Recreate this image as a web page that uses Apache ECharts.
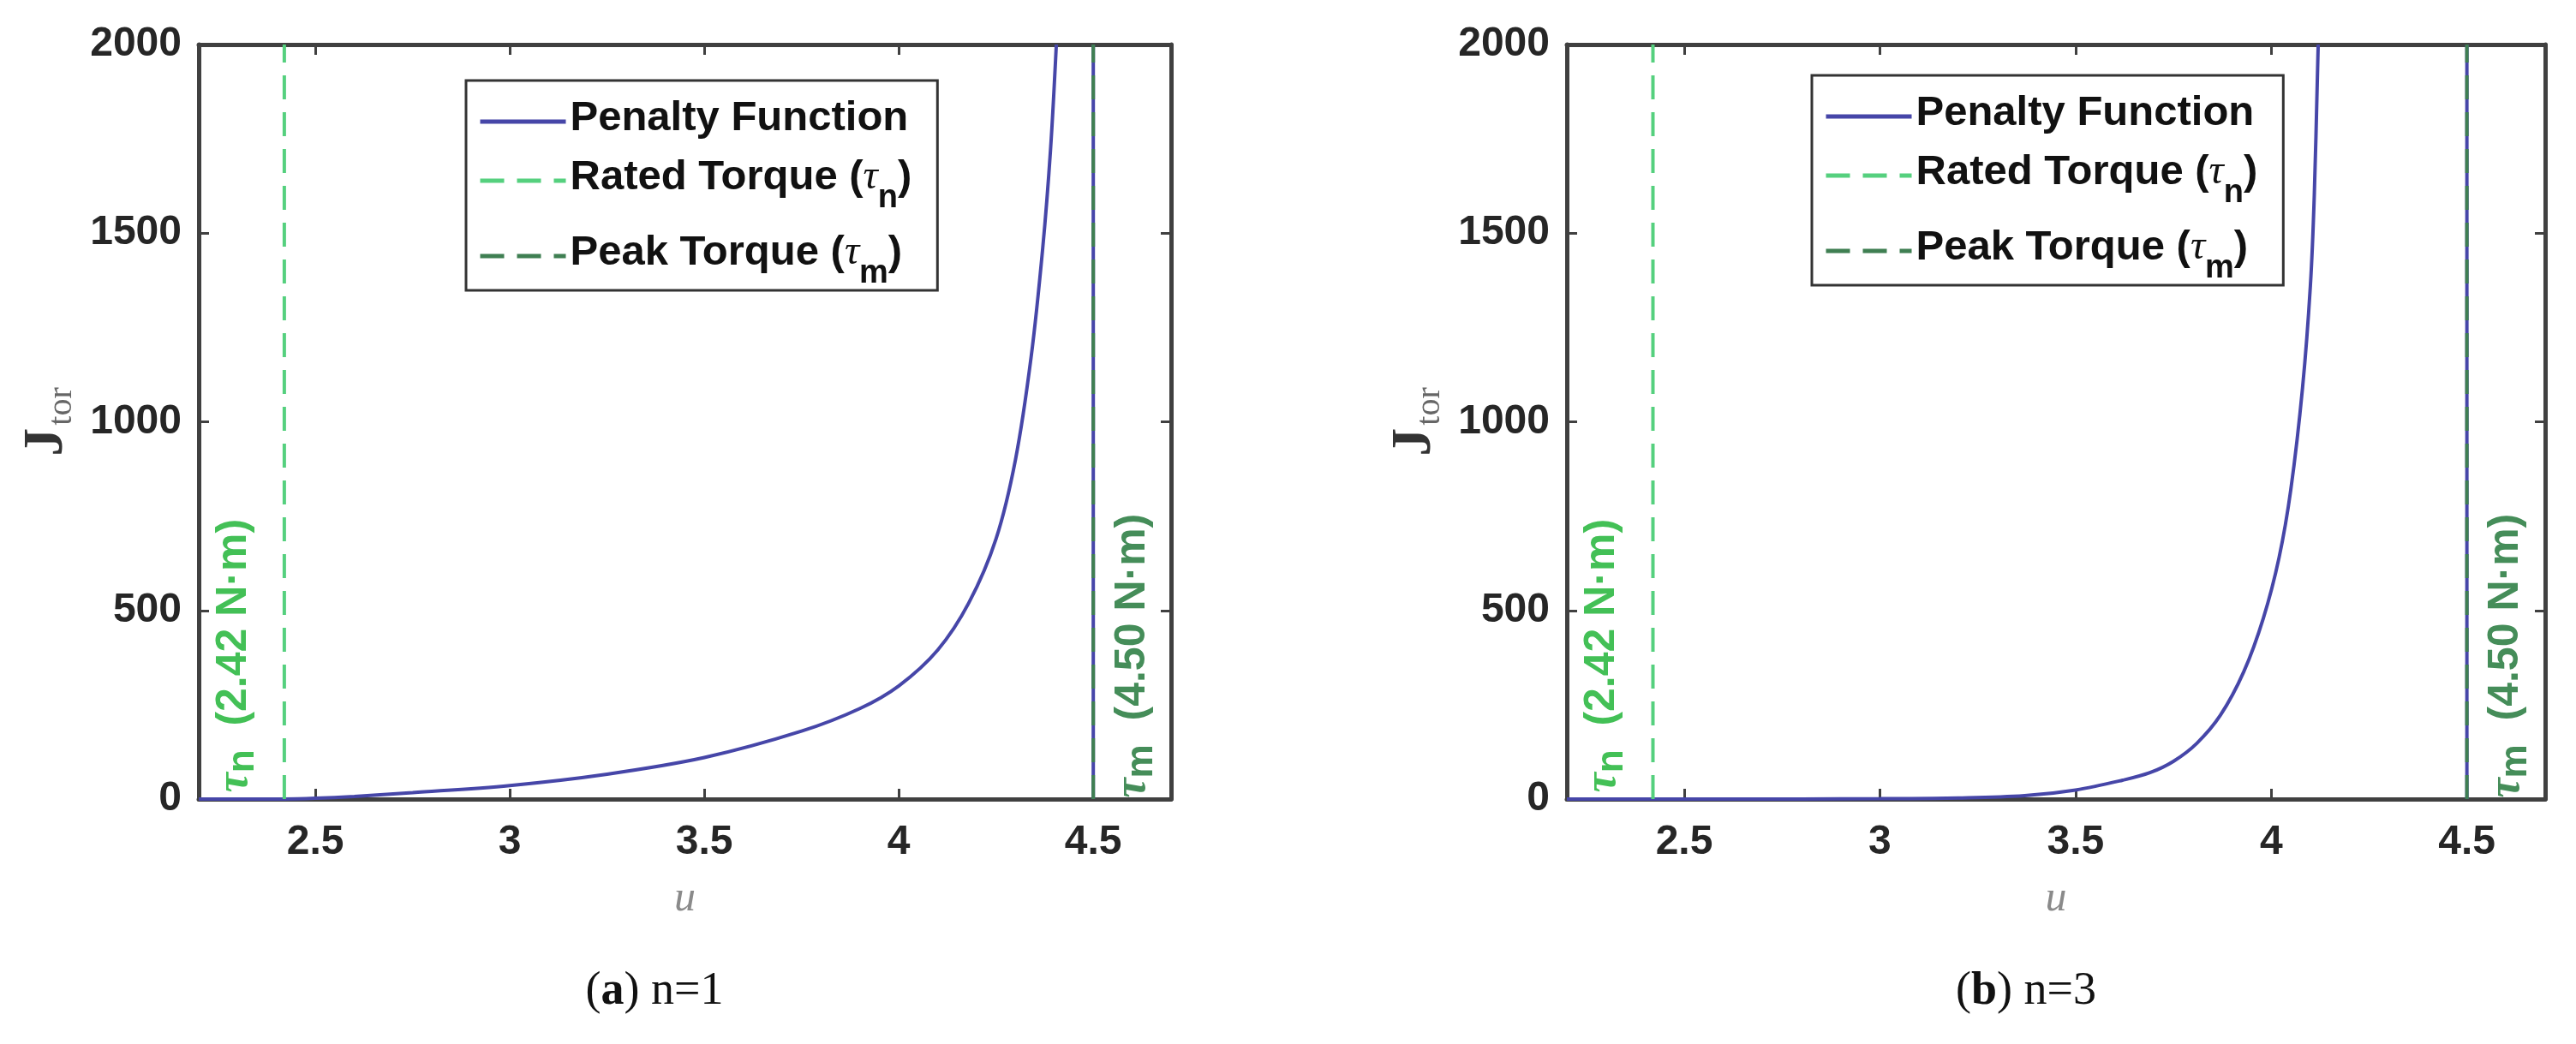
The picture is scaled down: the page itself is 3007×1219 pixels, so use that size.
<!DOCTYPE html>
<html>
<head>
<meta charset="utf-8">
<script src="https://cdn.jsdelivr.net/npm/echarts@6/dist/echarts.min.js"></script>
<style>
  html, body { margin: 0; padding: 0; background: #fff; }
  #chart { width: 3007px; height: 1219px; }
</style>
</head>
<body>
<div id="chart"></div>
<script>
// axis ranges and ticks
const uRange = [2.2, 4.7];
const jRange = [0, 2000];
const uTicks = [2.5, 3, 3.5, 4, 4.5];

// torque limits (N·m)
const ratedTorque = 2.42;
const peakTorque = 4.5;

// (a) n=1
const u1 = [2.2, 2.42, 2.5, 2.6, 2.75, 3.0, 3.25, 3.5, 3.75, 3.9, 4.0, 4.1, 4.18, 4.25, 4.3, 4.34, 4.37, 4.39, 4.405];
const j1 = [0, 0, 2, 7, 17, 36, 66, 110, 180, 240, 300, 395, 520, 690, 900, 1170, 1460, 1720, 2000];

// (b) n=3
const u3 = [2.2, 2.8, 3.0, 3.2, 3.37, 3.5, 3.62, 3.69, 3.75, 3.81, 3.87, 3.93, 3.98, 4.02, 4.05, 4.08, 4.1, 4.11, 4.12];
const j3 = [0, 0, 1, 3, 9, 24, 50, 70, 100, 148, 222, 338, 480, 640, 820, 1090, 1360, 1600, 2000];

// the penalty jumps back down at the peak torque
const dropU = [peakTorque, peakTorque];
const dropJ = [2000, 0];

// where the rotated limit labels sit (data coords)
const labelU = [2.295, 4.605];
const labelJ = 380;

const captions = ['a', 'b'];
const nValues = [1, 3];

const sans = 'Liberation Sans, Arial, sans-serif';
const serif = 'Liberation Serif, Times New Roman, serif';
const axisColor = '#404040';
const blue = '#4646a8';
const lightGreen = '#55d07e';
const darkGreen = '#3f7f52';

const grids = [
	{ left: 232, top: 52, width: 1135, height: 881 },
	{ left: 1829, top: 52, width: 1142, height: 881 },
];
const legendPos = [
	{ left: 544, top: 94 },
	{ left: 2115, top: 88 },
];
const captionX = [764, 2365];

function zip(xs, ys) {
	return xs.map((x, i) => [x, ys[i]]);
}

function xAxes(gi) {
	const base = {
		type: 'value', gridIndex: gi, min: uRange[0], max: uRange[1],
		splitLine: { show: false },
		axisLine: { show: true, onZero: false, lineStyle: { color: axisColor, width: 5 } },
		axisTick: { show: true, inside: true, length: 12, customValues: uTicks, lineStyle: { color: axisColor, width: 3 } },
	};
	return [
		Object.assign({}, base, {
			position: 'bottom',
			axisLabel: { customValues: uTicks, margin: 27, fontSize: 48, fontWeight: 'bold', color: '#262626', fontFamily: sans },
			name: 'u', nameLocation: 'middle', nameGap: 92,
			nameTextStyle: { fontFamily: serif, fontStyle: 'italic', fontSize: 50, color: '#8a8a8a' },
		}),
		Object.assign({}, base, { position: 'top', axisLabel: { show: false } }),
	];
}

function yAxes(gi) {
	const base = {
		type: 'value', gridIndex: gi, min: jRange[0], max: jRange[1], interval: 500,
		splitLine: { show: false },
		axisLine: { show: true, onZero: false, lineStyle: { color: axisColor, width: 5 } },
		axisTick: { show: true, inside: true, length: 12, lineStyle: { color: axisColor, width: 3 } },
	};
	return [
		Object.assign({}, base, {
			position: 'left',
			axisLabel: { margin: 20, fontSize: 48, fontWeight: 'bold', color: '#262626', fontFamily: sans, formatter: (v) => String(v) },
			name: '{j|J}{s|tor}', nameLocation: 'middle', nameGap: 140, nameRotate: 90,
			nameTextStyle: {
				rich: {
					j: { fontFamily: serif, fontWeight: 'bold', fontSize: 66, color: '#333', lineHeight: 70, verticalAlign: 'top' },
					s: { fontFamily: serif, fontSize: 40, color: '#666', lineHeight: 46, padding: [30, 0, 0, 3], verticalAlign: 'top' },
				},
			},
		}),
		Object.assign({}, base, { position: 'right', axisLabel: { show: false } }),
	];
}

const legendNames = ['Penalty Function', 'Rated Torque', 'Peak Torque'];
const legendText = {
	'Penalty Function': '{b|Penalty Function}',
	'Rated Torque': '{b|Rated Torque (}{t|τ}{s|n}{b|)}',
	'Peak Torque': '{b|Peak Torque (}{t|τ}{s|m}{b|)}',
};
const legendRich = {
	b: { fontFamily: sans, fontWeight: 'bold', fontSize: 49, color: '#111', lineHeight: 56, verticalAlign: 'top' },
	t: { fontFamily: serif, fontStyle: 'italic', fontSize: 48, color: '#111', lineHeight: 56, verticalAlign: 'top' },
	s: { fontFamily: sans, fontWeight: 'bold', fontSize: 38, color: '#111', lineHeight: 50, padding: [30, 0, 0, 0], verticalAlign: 'top' },
};

const limitRich = (color) => ({
	t: { fontFamily: serif, fontStyle: 'italic', fontWeight: 'bold', fontSize: 52, color: color, lineHeight: 54, verticalAlign: 'top' },
	s: { fontFamily: sans, fontWeight: 'bold', fontSize: 44, color: color, lineHeight: 54, padding: [14, 0, 0, 0], verticalAlign: 'top' },
	v: { fontFamily: sans, fontWeight: 'bold', fontSize: 50, color: color, lineHeight: 54, verticalAlign: 'top' },
});

const series = [];
[zip(u1, j1), zip(u3, j3)].forEach((curve, gi) => {
	const xi = gi * 2, yi = gi * 2;
	series.push({
		name: 'Penalty Function', type: 'line', xAxisIndex: xi, yAxisIndex: yi,
		data: curve, showSymbol: false, symbol: 'none', smooth: 0.35,
		lineStyle: { color: blue, width: 4 }, itemStyle: { color: blue }, z: 3,
	});
	series.push({
		name: 'Penalty Function', type: 'line', xAxisIndex: xi, yAxisIndex: yi,
		data: zip(dropU, dropJ), symbol: 'none',
		lineStyle: { color: blue, width: 4 }, itemStyle: { color: blue }, z: 3,
	});
	series.push({
		name: 'Rated Torque', type: 'line', xAxisIndex: xi, yAxisIndex: yi,
		data: zip([ratedTorque, ratedTorque], jRange), symbol: 'none',
		lineStyle: { color: lightGreen, width: 4, type: [28, 15] }, itemStyle: { color: lightGreen }, z: 4,
	});
	series.push({
		name: 'Peak Torque', type: 'line', xAxisIndex: xi, yAxisIndex: yi,
		data: zip([peakTorque, peakTorque], jRange), symbol: 'none',
		lineStyle: { color: darkGreen, width: 4, type: [28, 15] }, itemStyle: { color: darkGreen }, z: 5,
	});
	series.push({
		name: 'limits', type: 'scatter', xAxisIndex: xi, yAxisIndex: yi, symbolSize: 0, silent: true,
		data: [
			{ value: [labelU[0], labelJ], label: { formatter: '{t|τ}{s|n}{v|  (' + ratedTorque.toFixed(2) + ' N·m)}', rich: limitRich('#14b02c') } },
			{ value: [labelU[1], labelJ], label: { formatter: '{t|τ}{s|m}{v|  (' + peakTorque.toFixed(2) + ' N·m)}', rich: limitRich('#17702f') } },
		],
		label: { show: true, position: 'inside', rotate: 90 },
		z: 6,
	});
});

const chart = echarts.init(document.getElementById('chart'));
chart.setOption({
	backgroundColor: '#fff',
	animation: false,
	grid: grids,
	xAxis: [].concat(xAxes(0), xAxes(1)),
	yAxis: [].concat(yAxes(0), yAxes(1)),
	legend: legendPos.map((p) => ({
		left: p.left, top: p.top, orient: 'vertical',
		data: legendNames,
		backgroundColor: '#fff', borderColor: '#333', borderWidth: 3,
		padding: [20, 30, 0, 14], itemGap: 20, itemWidth: 100, itemHeight: 4,
		itemStyle: { opacity: 0 },
		lineStyle: { width: 5 },
		formatter: (name) => legendText[name],
		textStyle: { rich: legendRich },
		selectedMode: false,
	})),
	graphic: captions.map((c, i) => ({
		type: 'text', x: captionX[i], y: 1158,
		style: {
			text: '{p|(}{b|' + c + '}{p|) n=' + nValues[i] + '}',
			textAlign: 'center', textVerticalAlign: 'middle',
			rich: {
				p: { fontFamily: serif, fontSize: 54, fill: '#111' },
				b: { fontFamily: serif, fontWeight: 'bold', fontSize: 54, fill: '#111' },
			},
		},
	})),
	series: series,
});
</script>
</body>
</html>
